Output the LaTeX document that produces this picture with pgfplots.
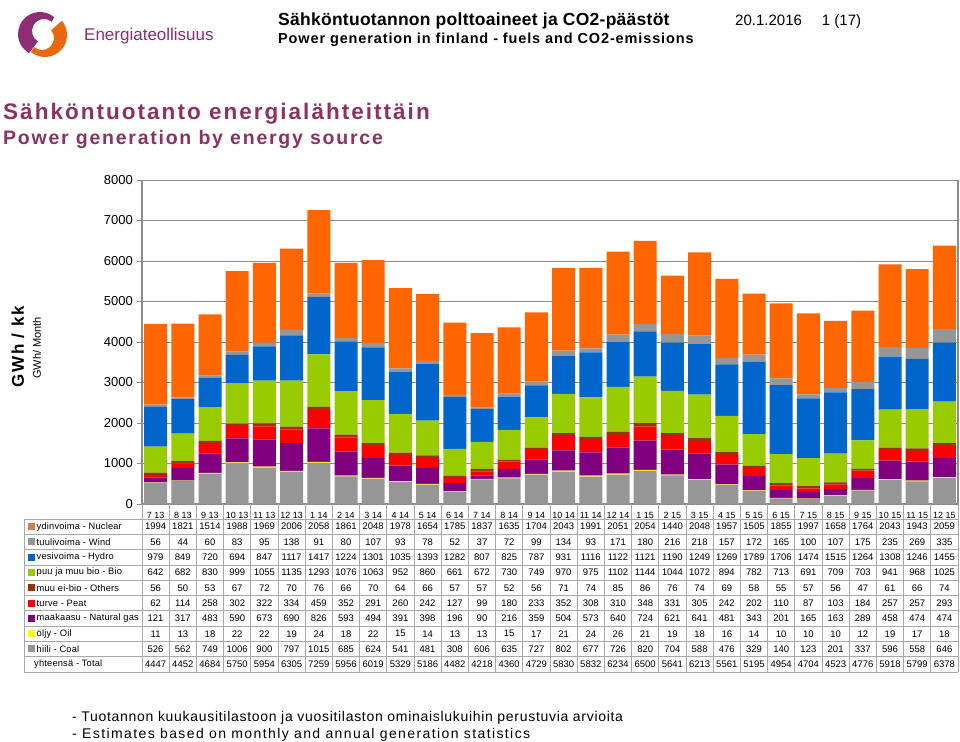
\documentclass[border=0pt]{standalone}
\usepackage{pgfplots}
\usepackage{pgfplotstable}
\pgfplotsset{compat=1.18}
\usepackage{fontspec}
\setmainfont{Liberation Sans}
\definecolor{cNuc}{HTML}{FF6600}
\definecolor{cWind}{HTML}{969696}
\definecolor{cHydro}{HTML}{0066CC}
\definecolor{cBio}{HTML}{99CC00}
\definecolor{cOth}{HTML}{993300}
\definecolor{cPeat}{HTML}{FF0000}
\definecolor{cGas}{HTML}{800080}
\definecolor{cOil}{HTML}{FFFF00}
\definecolor{cCoal}{HTML}{969696}
\definecolor{cTitle}{HTML}{8E3062}
\definecolor{cLogoP}{HTML}{8E2C74}
\definecolor{cLogoO}{HTML}{E8680E}
\definecolor{cGrid}{HTML}{8C8C8C}
\definecolor{cTab}{HTML}{A8A8A8}

\pgfplotstableread{
x nuclear wind hydro bio others peat gas oil coal total
0 1994 56 979 642 56 62 121 11 526 4447
1 1821 44 849 682 50 114 317 13 562 4452
2 1514 60 720 830 53 258 483 18 749 4684
3 1988 83 694 999 67 302 590 22 1006 5750
4 1969 95 847 1055 72 322 673 22 900 5954
5 2006 138 1117 1135 70 334 690 19 797 6305
6 2058 91 1417 1293 76 459 826 24 1015 7259
7 1861 80 1224 1076 66 352 593 18 685 5956
8 2048 107 1301 1063 70 291 494 22 624 6019
9 1978 93 1035 952 64 260 391 15 541 5329
10 1654 78 1393 860 66 242 398 14 481 5186
11 1785 52 1282 661 57 127 196 13 308 4482
12 1837 37 807 672 57 99 90 13 606 4218
13 1635 72 825 730 52 180 216 15 635 4360
14 1704 99 787 749 56 233 359 17 727 4729
15 2043 134 931 970 71 352 504 21 802 5830
16 1991 93 1116 975 74 308 573 24 677 5832
17 2051 171 1122 1102 85 310 640 26 726 6234
18 2054 180 1121 1144 86 348 724 21 820 6500
19 1440 216 1190 1044 76 331 621 19 704 5641
20 2048 218 1249 1072 74 305 641 18 588 6213
21 1957 157 1269 894 69 242 481 16 476 5561
22 1505 172 1789 782 58 202 343 14 329 5195
23 1855 165 1706 713 55 110 201 10 140 4954
24 1997 100 1474 691 57 87 165 10 123 4704
25 1658 107 1515 709 56 103 163 10 201 4523
26 1764 175 1264 703 47 184 289 12 337 4776
27 2043 235 1308 941 61 257 458 19 596 5918
28 1943 269 1246 968 66 257 474 17 558 5799
29 2059 335 1455 1025 74 293 474 18 646 6378
}\data

\begin{document}
\begin{tikzpicture}
\useasboundingbox (0pt,0pt) rectangle (960pt,-741pt);

% logo
\fill[cLogoP] ([shift={(40pt,-34pt)}]50:22pt) arc[start angle=50,end angle=240,radius=22pt]
  -- ([shift={(44pt,-31pt)}]240:12pt) arc[start angle=240,end angle=50,radius=12pt] -- cycle;
\fill[cLogoO] ([shift={(45pt,-35pt)}]230:22pt) arc[start angle=230,end angle=400,radius=22pt]
  -- ([shift={(42pt,-38pt)}]40:12pt) arc[start angle=40,end angle=-130,radius=12pt] -- cycle;
\node[anchor=base west, inner sep=0pt, text=cLogoP, font=\fontsize{17}{19}\selectfont] at (84pt,-41pt) {Energiateollisuus};

% header
\node[anchor=base west, inner sep=0pt, font=\bfseries\fontsize{17.5}{20}\selectfont\addfontfeature{LetterSpace=1.5}] at (278pt,-26pt) {Sähköntuotannon polttoaineet ja CO2-päästöt};
\node[anchor=base west, inner sep=0pt, font=\bfseries\fontsize{14.5}{17}\selectfont\addfontfeature{LetterSpace=6}] at (278pt,-44pt) {Power generation in finland - fuels and CO2-emissions};
\node[anchor=base west, inner sep=0pt, font=\fontsize{15}{18}\selectfont] at (735pt,-26pt) {20.1.2016\hspace{20pt}1 (17)};

% titles
\node[anchor=base west, inner sep=0pt, text=cTitle, font=\bfseries\fontsize{22.5}{26}\selectfont\addfontfeature{LetterSpace=9}] at (3pt,-120pt) {Sähköntuotanto energialähteittäin};
\node[anchor=base west, inner sep=0pt, text=cTitle, font=\bfseries\fontsize{19.5}{23}\selectfont\addfontfeature{LetterSpace=9}] at (3pt,-144pt) {Power generation by energy source};

% y labels
\node[rotate=90, inner sep=0pt, font=\bfseries\fontsize{17}{20}\selectfont\addfontfeature{LetterSpace=10}] at (18pt,-347pt) {GWh / kk};
\node[rotate=90, inner sep=0pt, font=\fontsize{11}{13}\selectfont] at (37pt,-348pt) {GWh/ Month};

\begin{axis}[
  at={(142pt,-504pt)}, anchor=south west,
  scale only axis, width=816pt, height=324pt,
  ybar stacked, bar width=23pt,
  xmin=-0.5, xmax=29.5, ymin=0, ymax=8000,
  xtick={0,...,29},
  xticklabels={7 13,8 13,9 13,10 13,11 13,12 13,1 14,2 14,3 14,4 14,5 14,6 14,7 14,8 14,9 14,10 14,11 14,12 14,1 15,2 15,3 15,4 15,5 15,6 15,7 15,8 15,9 15,10 15,11 15,12 15},
  major x tick style={draw=none},
  xticklabel style={font=\fontsize{9}{10}\selectfont, inner sep=0pt, anchor=north, yshift=-3pt},
  ytick={0,1000,...,8000},
  yticklabel style={font=\fontsize{13}{15}\selectfont, inner sep=0pt, anchor=east, xshift=-4pt},
  /pgf/number format/assume math mode=true,
  /pgf/number format/1000 sep={},
  ymajorgrids, grid style={cGrid, line width=0.9pt},
  axis line style={cGrid, line width=1.2pt},
  ytick pos=left, tick align=outside, major tick length=5pt,
  major y tick style={cGrid, line width=1pt},
  axis x line*=bottom,
  clip=false,
]
\addplot[fill=cCoal, draw=none] table[x=x, y=coal]{\data};
\addplot[fill=cOil, draw=none] table[x=x, y=oil]{\data};
\addplot[fill=cGas, draw=none] table[x=x, y=gas]{\data};
\addplot[fill=cPeat, draw=none] table[x=x, y=peat]{\data};
\addplot[fill=cOth, draw=none] table[x=x, y=others]{\data};
\addplot[fill=cBio, draw=none] table[x=x, y=bio]{\data};
\addplot[fill=cHydro, draw=none] table[x=x, y=hydro]{\data};
\addplot[fill=cWind, draw=none] table[x=x, y=wind]{\data};
\addplot[fill=cNuc, draw=none] table[x=x, y=nuclear]{\data};
\end{axis}
\draw[cGrid, line width=0.9pt] (142pt,-180pt) -- (958pt,-180pt) -- (958pt,-504pt);
\draw[cGrid, line width=1.2pt] (142pt,-180pt) -- (142pt,-504pt);

% table grid
\foreach \k in {0,...,10} {
  \draw[cTab, line width=0.8pt] (24pt,{-519pt-15.3pt*\k}) -- (958pt,{-519pt-15.3pt*\k});
}
\draw[cTab, line width=0.8pt] (24pt,-519pt) -- (24pt,-672pt);
\foreach \j in {0,...,30} {
  \draw[cTab, line width=0.8pt] ({142pt+27.2pt*\j},-504pt) -- ({142pt+27.2pt*\j},-672pt);
}
% row labels
\foreach \lab/\col [count=\r from 0] in {ydinvoima - Nuclear/D08050, tuulivoima - Wind/969696, vesivoima - Hydro/0066CC, puu ja muu bio - Bio/99CC00, muu ei-bio - Others/993300, turve - Peat/FF0000, maakaasu - Natural gas/800080, öljy - Oil/FFFF00, hiili - Coal/969696} {
  \definecolor{swc}{HTML}{\col}
  \fill[swc] (27.5pt,{-523pt-15.3pt*\r}) rectangle (34.5pt,{-530pt-15.3pt*\r});
  \node[anchor=west, inner sep=0pt, font=\fontsize{9.3}{11}\selectfont\addfontfeature{LetterSpace=2}] at (36.5pt,{-526.65pt-15.3pt*\r}) {\lab};
}
\node[anchor=west, inner sep=0pt, font=\fontsize{9.3}{11}\selectfont\addfontfeature{LetterSpace=2}] at (34pt,{-526.65pt-15.3pt*9}) {yhteensä - Total};
% table values
\foreach \i in {0,...,29} {
  \foreach \c [count=\r from 0] in {nuclear,wind,hydro,bio,others,peat,gas,oil,coal,total} {
    \pgfplotstablegetelem{\i}{\c}\of\data
    \node[inner sep=0pt, font=\fontsize{9.5}{11}\selectfont] at ({155.6pt+27.2pt*\i},{-526.65pt-15.3pt*\r}) {\pgfplotsretval};
  }
}

% footnotes
\node[anchor=base west, inner sep=0pt, font=\fontsize{14}{16}\selectfont\addfontfeature{LetterSpace=5}] at (72pt,-721pt) {- Tuotannon kuukausitilastoon ja vuositilaston ominaislukuihin perustuvia arvioita};
\node[anchor=base west, inner sep=0pt, font=\fontsize{14}{16}\selectfont\addfontfeature{LetterSpace=10}] at (72pt,-738pt) {- Estimates based on monthly and annual generation statistics};
\end{tikzpicture}
\end{document}
